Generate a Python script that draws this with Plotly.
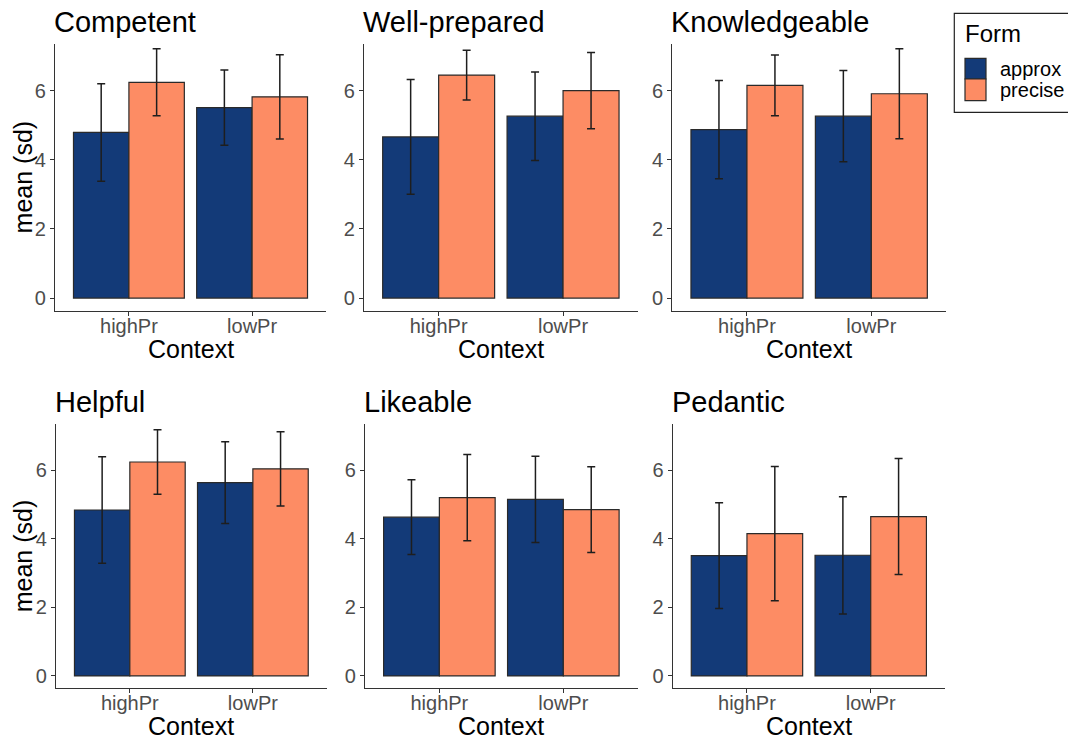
import plotly.graph_objects as go

# ---- data ----
contexts = ["highPr", "lowPr"]
forms = ["approx", "precise"]
panels = ["Competent", "Well-prepared", "Knowledgeable", "Helpful", "Likeable", "Pedantic"]

mean_approx = {
    "Competent": [4.79, 5.51],
    "Well-prepared": [4.66, 5.26],
    "Knowledgeable": [4.87, 5.26],
    "Helpful": [4.84, 5.64],
    "Likeable": [4.63, 5.15],
    "Pedantic": [3.51, 3.52],
}
sd_approx = {
    "Competent": [1.41, 1.09],
    "Well-prepared": [1.66, 1.28],
    "Knowledgeable": [1.42, 1.32],
    "Helpful": [1.55, 1.19],
    "Likeable": [1.09, 1.26],
    "Pedantic": [1.54, 1.71],
}
mean_precise = {
    "Competent": [6.24, 5.82],
    "Well-prepared": [6.45, 6.00],
    "Knowledgeable": [6.15, 5.91],
    "Helpful": [6.24, 6.04],
    "Likeable": [5.20, 4.85],
    "Pedantic": [4.15, 4.65],
}
sd_precise = {
    "Competent": [0.97, 1.22],
    "Well-prepared": [0.72, 1.10],
    "Knowledgeable": [0.88, 1.30],
    "Helpful": [0.94, 1.08],
    "Likeable": [1.26, 1.25],
    "Pedantic": [1.96, 1.69],
}

colors = {"approx": "#133a78", "precise": "#fd8c64"}

W, H = 1068, 740
# panel pixel boxes (left, right, top, bottom)
boxes = [
    (55, 326, 44.3, 310.5),
    (364, 637.7, 44.3, 310.5),
    (672.3, 946, 44.3, 310.5),
    (56, 326.7, 424.3, 688.3),
    (365, 637.7, 424.3, 688.3),
    (672.7, 945, 424.3, 688.3),
]

fig = go.Figure()
FONT = "Liberation Sans, Arial, Helvetica, sans-serif"

for i, p in enumerate(panels):
    ax = "" if i == 0 else str(i + 1)
    for f in forms:
        m = mean_approx[p] if f == "approx" else mean_precise[p]
        s = sd_approx[p] if f == "approx" else sd_precise[p]
        fig.add_trace(go.Bar(
            x=contexts, y=m, name=f, showlegend=False,
            marker=dict(color=colors[f], line=dict(color="#2a2a2a", width=1.2)),
            error_y=dict(type="data", array=s, visible=True, color="#1e1e1e",
                         thickness=1.5, width=4),
            xaxis="x" + ax, yaxis="y" + ax,
        ))
    l, r, t, b = boxes[i]
    xd = [l / W, r / W]
    yd = [1 - b / H, 1 - t / H]
    common = dict(showline=True, linecolor="#333333", linewidth=1.2,
                  ticks="outside", ticklen=4, tickcolor="#333333",
                  tickfont=dict(size=20, color="#4d4d4d", family=FONT),
                  showgrid=False, zeroline=False)
    fig.layout["xaxis" + ax] = dict(domain=xd, anchor="y" + ax, range=[-0.6, 1.6],
                                    type="category", ticklabelstandoff=-7, **common)
    fig.layout["yaxis" + ax] = dict(domain=yd, anchor="x" + ax, range=[-0.36, 7.34],
                                    tickvals=[0, 2, 4, 6], **common)
    # panel title
    fig.add_annotation(text=p, x=(l - 3) / W, y=1 - (t - 22.5) / H, xref="paper", yref="paper",
                       xanchor="left", yanchor="middle", showarrow=False,
                       font=dict(size=29, color="black", family=FONT))
    # x title
    fig.add_annotation(text="Context", x=(l + r) / 2 / W, y=1 - (b + 38) / H,
                       xref="paper", yref="paper", xanchor="center", yanchor="middle",
                       showarrow=False, font=dict(size=25, color="black", family=FONT))
    if i in (0, 3):
        fig.add_annotation(text="mean (sd)", x=23 / W, y=1 - ((t + b) / 2) / H,
                           xref="paper", yref="paper", xanchor="center", yanchor="middle",
                           textangle=-90, showarrow=False,
                           font=dict(size=25, color="black", family=FONT))

# legend (drawn as a key box)
shapes = [dict(type="rect", xref="paper", yref="paper", x0=954.3 / W, x1=1.01,
               y0=1 - 112.3 / H, y1=1 - 13.3 / H, line=dict(color="#222222", width=1.2),
               fillcolor="white", layer="below")]
key_rows = [(58.3, 79.0), (79.0, 100.7)]
for f, (k0, k1) in zip(forms, key_rows):
    shapes.append(dict(type="rect", xref="paper", yref="paper", x0=965 / W, x1=986 / W,
                       y0=1 - k1 / H, y1=1 - k0 / H, fillcolor=colors[f],
                       line=dict(color="#2a2a2a", width=1.2)))
    fig.add_annotation(text=f, x=998 / W, y=1 - ((k0 + k1) / 2) / H, xref="paper", yref="paper",
                       xanchor="left", yanchor="middle", showarrow=False,
                       font=dict(size=20, color="black", family=FONT))
fig.add_annotation(text="Form", x=963 / W, y=1 - 34 / H, xref="paper", yref="paper",
                   xanchor="left", yanchor="middle", showarrow=False,
                   font=dict(size=24, color="black", family=FONT))

fig.update_layout(
    width=W, height=H, autosize=False,
    margin=dict(l=0, r=0, t=0, b=0),
    barmode="group", bargap=0.1, bargroupgap=0,
    paper_bgcolor="white", plot_bgcolor="white",
    shapes=shapes, showlegend=False,
    font=dict(family=FONT),
)

fig.write_html("out.html", config={"displayModeBar": False},
               post_script="document.body.style.margin='0';document.body.style.overflow='hidden';")
